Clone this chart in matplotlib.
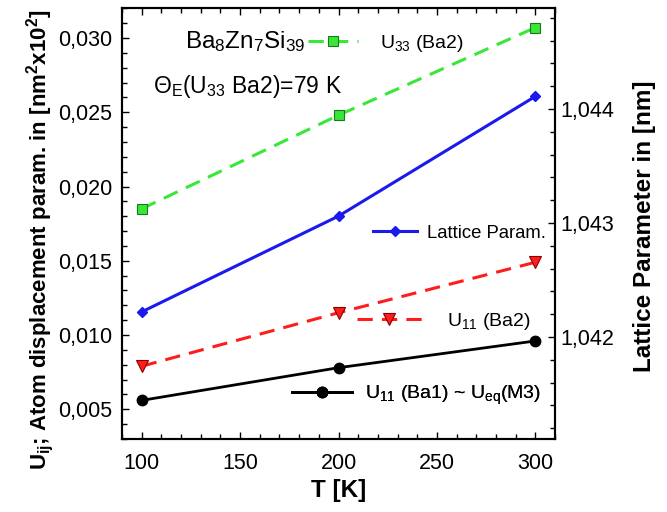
import matplotlib
matplotlib.use("Agg")
import matplotlib.pyplot as plt
from matplotlib.ticker import MultipleLocator, FuncFormatter

plt.rcParams['font.family'] = 'Liberation Sans'
plt.rcParams['mathtext.fontset'] = 'custom'
plt.rcParams['mathtext.rm'] = 'Liberation Sans'
plt.rcParams['mathtext.it'] = 'Liberation Sans'
plt.rcParams['mathtext.bf'] = 'Liberation Sans:bold'

# values
T = [100, 200, 300]
u33_ba2 = [0.0185, 0.0248, 0.0307]
u11_ba2 = [0.0079, 0.0115, 0.0149]
u11_ba1 = [0.0056, 0.0078, 0.0096]
lattice = [1.04222, 1.04306, 1.04411]

green = '#38e838'
red = '#ff1c1c'
blue = '#1a1aee'

comma3 = FuncFormatter(lambda v, p: f"{v:.3f}".replace('.', ','))

fig = plt.figure(figsize=(6.67, 5.12), dpi=100)
ax = fig.add_axes([0.183, 0.1426, 0.649, 0.8412])
ax2 = ax.twinx()

l_u33, = ax.plot(T, u33_ba2, color=green, lw=2.2, dashes=(5, 3), marker='s', ms=7,
                 mfc=green, mec='#1a7a1a', mew=0.8)
l_u11b2, = ax.plot(T, u11_ba2, color=red, lw=2.2, dashes=(5, 3), marker='v', ms=8,
                   mfc=red, mec='#8a0000', mew=0.8)
l_u11b1, = ax.plot(T, u11_ba1, color='k', lw=2.0, marker='o', ms=7.5)
l_lat, = ax2.plot(T, lattice, color=blue, lw=2.2, marker='D', ms=5.5, mec=blue)

ax.set_xlim(90, 310)
ax.set_ylim(0.003, 0.032)
ax2.set_ylim(1.041105, 1.044883)

ax.xaxis.set_major_locator(MultipleLocator(50))
ax.xaxis.set_minor_locator(MultipleLocator(10))
ax.yaxis.set_major_locator(MultipleLocator(0.005))
ax.yaxis.set_minor_locator(MultipleLocator(0.001))
ax.yaxis.set_major_formatter(comma3)
ax2.yaxis.set_major_locator(MultipleLocator(0.001))
ax2.yaxis.set_minor_locator(MultipleLocator(0.0002))
ax2.yaxis.set_major_formatter(comma3)

ax.tick_params(which='both', direction='in', top=True, right=False, labelsize=15.5, width=1)
ax.tick_params(which='major', length=5)
ax.tick_params(which='minor', length=3.5)
ax.tick_params(axis='x', which='major', pad=10)
ax.tick_params(axis='y', which='major', pad=7)
ax2.tick_params(which='both', direction='in', labelsize=15.5, width=1)
ax2.tick_params(which='major', length=5, pad=4)
ax2.tick_params(which='minor', length=3.5)
for a in (ax, ax2):
    for s in a.spines.values():
        s.set_linewidth(1.5)

ax.set_xlabel('T [K]', fontsize=17.5, fontweight='bold', labelpad=4)
ax.set_ylabel(r'U$_{\mathbf{ij}}$; Atom displacement param. in [nm$^{\mathbf{2}}$x10$^{\mathbf{2}}$]',
              fontsize=16, fontweight='bold')
ax.yaxis.set_label_coords(-0.152, 0.462)
ax2.set_ylabel('Lattice Parameter in [nm]', fontsize=17.5, fontweight='bold')
ax2.yaxis.set_label_coords(1.18, 0.493)

# annotations
ax2.text(0.1455, 0.907, r'Ba$_8$Zn$_7$Si$_{39}$', transform=ax.transAxes, fontsize=17.5,
         va='baseline', ha='left')
ax2.text(0.0709, 0.8026, r'Θ$_E$(U$_{33}$ Ba2)=79 K', transform=ax.transAxes, fontsize=16.5,
         va='baseline', ha='left')

# legend keys, one per entry
entries = [
    (l_u33, r'U$_{33}$ (Ba2)', 0.4296, 0.919, 14, 2.57, 1.13),
    (l_lat, 'Lattice Param.', 0.5797, 0.4776, 13.3, 2.38, 0.54),
    (l_u11b2, r'U$_{11}$ (Ba2)', 0.542, 0.2724, 14, 3.34, 1.29),
    (l_u11b1, r'U$_{11}$ (Ba1) ~ U$_{eq}$(M3)', 0.392, 0.1005, 14, 3.09, 0.67),
]
for h, lab, x, y, fs, hl, tp in entries:
    leg = ax2.legend([h], [lab], loc='center left', bbox_to_anchor=(x, y),
                     bbox_transform=ax.transAxes, frameon=False, fontsize=fs,
                     borderpad=0, borderaxespad=0, handlelength=hl, handletextpad=tp,
                     numpoints=1)
    ax2.add_artist(leg)

fig.savefig('out.png', dpi=100)
